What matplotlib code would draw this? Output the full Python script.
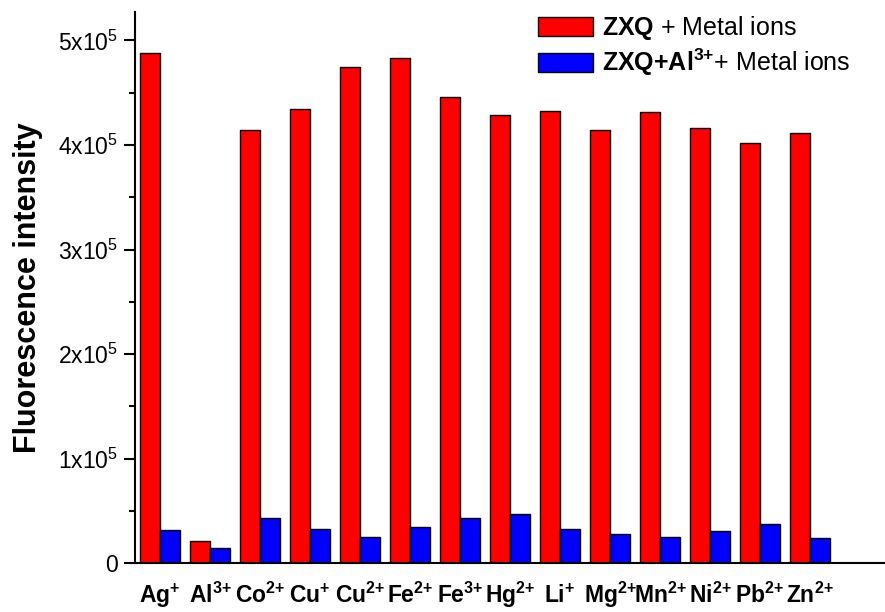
import numpy as np
import matplotlib
matplotlib.use('Agg')
import matplotlib.pyplot as plt

plt.rcParams['font.family'] = 'Liberation Sans'
plt.rcParams['mathtext.fontset'] = 'custom'
plt.rcParams['mathtext.rm'] = 'Liberation Sans'
plt.rcParams['mathtext.it'] = 'Liberation Sans:italic'
plt.rcParams['mathtext.bf'] = 'Liberation Sans:bold'

# Data
ions = [r'$\mathbf{Ag^{{+}}}$', r'$\mathbf{Al^{3{+}}}$', r'$\mathbf{Co^{2{+}}}$', r'$\mathbf{Cu^{{+}}}$',
        r'$\mathbf{Cu^{2{+}}}$', r'$\mathbf{Fe^{2{+}}}$', r'$\mathbf{Fe^{3{+}}}$', r'$\mathbf{Hg^{2{+}}}$',
        r'$\mathbf{Li^{{+}}}$', r'$\mathbf{Mg^{2{+}}}$', r'$\mathbf{Mn^{2{+}}}$', r'$\mathbf{Ni^{2{+}}}$',
        r'$\mathbf{Pb^{2{+}}}$', r'$\mathbf{Zn^{2{+}}}$']
zxq = [4.88, 0.214, 4.14, 4.34, 4.75, 4.83, 4.46, 4.29, 4.33, 4.14, 4.32, 4.16, 4.02, 4.12]
zxq_al = [0.32, 0.144, 0.43, 0.326, 0.255, 0.35, 0.43, 0.47, 0.326, 0.278, 0.255, 0.31, 0.376, 0.24]
zxq = np.array(zxq) * 1e5
zxq_al = np.array(zxq_al) * 1e5

yticks = [0, 1e5, 2e5, 3e5, 4e5, 5e5]
ytick_labels = ['0', r'1x10$^{5}$', r'2x10$^{5}$', r'3x10$^{5}$', r'4x10$^{5}$', r'5x10$^{5}$']

fig = plt.figure(figsize=(8.85, 6.12), dpi=100)
ax = fig.add_axes([0.1525, 0.0795, 0.8475, 0.9005])

x = np.arange(len(ions))
w = 0.4
ax.bar(x - w / 2, zxq, w, color='#ff0000', edgecolor='black', linewidth=1,
       label=r'$\mathbf{ZXQ}$ + Metal ions')
ax.bar(x + w / 2, zxq_al, w, color='#0000ff', edgecolor='black', linewidth=1,
       label=r'$\mathbf{ZXQ{+}Al^{3{+}}}$+ Metal ions')

ax.set_xlim(-0.5, 14.5)
ax.set_ylim(0, 5.27e5)
ax.set_xticks(x)
ax.set_xticklabels(ions, fontsize=16.5)
for lab in ax.get_xticklabels():
    lab.set_verticalalignment('baseline')
ax.tick_params(axis='x', length=0, pad=28.5)
ax.set_yticks(yticks)
ax.set_yticklabels(ytick_labels, fontsize=16.5)
ax.set_yticks(np.arange(0.5e5, 5.5e5, 1e5), minor=True)
ax.tick_params(axis='y', which='major', length=8, width=1.5, direction='out', pad=4)
ax.tick_params(axis='y', which='minor', length=4, width=1.5, direction='out')

for s in ['top', 'right']:
    ax.spines[s].set_visible(False)
ax.spines['left'].set_linewidth(1.5)
ax.spines['bottom'].set_linewidth(1.5)

ax.set_ylabel('Fluorescence intensity', fontsize=22, fontweight='bold', labelpad=11)

ax.legend(loc='upper left', bbox_to_anchor=(538 / 885, 1 - 14 / 612),
          bbox_transform=fig.transFigure, frameon=False, fontsize=18,
          borderpad=0, borderaxespad=0,
          handlelength=2.2, handleheight=0.8, labelspacing=0.2, handletextpad=0.35)

fig.savefig('out.png', dpi=100)
